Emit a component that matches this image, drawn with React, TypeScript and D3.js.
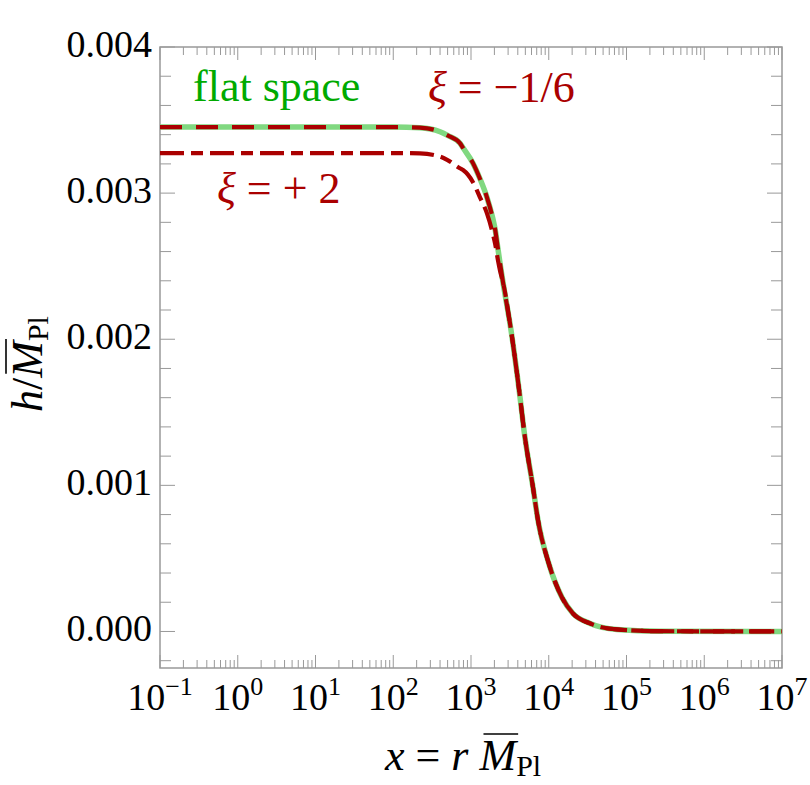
import { useEffect, useRef } from "react";
import * as d3 from "d3";

// x = r * M_Pl (log axis), h / M_Pl values
const xValues = [
  0.1, 1, 10, 100, 220, 400, 500, 720, 790, 1060, 1300, 1600, 1900, 2050, 2220,
  2360, 2580, 3270, 4270, 4800, 6270, 7280, 10000, 14800, 20500, 34000, 75000,
  270000, 1e7,
];
const flatSpace = [
  0.003452, 0.003452, 0.003452, 0.003452, 0.003448, 0.00342, 0.003395, 0.003342,
  0.00331, 0.003205, 0.0031, 0.002973, 0.00283, 0.002747, 0.00262, 0.002521,
  0.00239, 0.002062, 0.001603, 0.001377, 0.000986, 0.00076, 0.000466, 0.000233,
  0.000123, 0.000055, 0.000014, 0.000002, 0,
];
const xiMinusSixth = [
  0.003452, 0.003452, 0.003452, 0.003452, 0.003448, 0.00342, 0.003395, 0.003342,
  0.00331, 0.003205, 0.0031, 0.002973, 0.00283, 0.002747, 0.00262, 0.002521,
  0.00239, 0.002062, 0.001603, 0.001377, 0.000986, 0.00076, 0.000466, 0.000233,
  0.000123, 0.000055, 0.000014, 0.000002, 0,
];
const xiPlusTwo = [
  0.003274, 0.003274, 0.003274, 0.003274, 0.003272, 0.00325, 0.003226, 0.00317,
  0.003158, 0.003075, 0.002973, 0.002863, 0.002726, 0.00265, 0.002541, 0.00247,
  0.00239, 0.002062, 0.001603, 0.001377, 0.000986, 0.00076, 0.000466, 0.000233,
  0.000123, 0.000055, 0.000014, 0.000002, 0,
];

const xExponents = [-1, 0, 1, 2, 3, 4, 5, 6, 7];
const yTickLabels = ["0.000", "0.001", "0.002", "0.003", "0.004"];

const W = 810;
const H = 785;
const margin = { top: 47, right: 28, bottom: 117, left: 160 };
const FONT = "'Liberation Serif', 'DejaVu Serif', serif";
const RED = "#aa0000";
const GREEN_TEXT = "#00aa00";
const GREEN_LINE = "#80d880";
const AXIS = "#999999";

// draws "M-bar_Pl" pieces into a text, then puts a thin bar over the M
function addMbar(
  g: d3.Selection<SVGGElement, unknown, null, undefined>,
  text: d3.Selection<SVGTextElement, unknown, null, undefined>,
  mIndex: number
) {
  const node = text.node() as SVGTextElement;
  const ext = node.getExtentOfChar(mIndex);
  g.append("line")
    .attr("x1", ext.x + 4)
    .attr("x2", ext.x + ext.width + 2)
    .attr("y1", ext.y + 3)
    .attr("y2", ext.y + 3)
    .attr("stroke", "#000")
    .attr("stroke-width", 1.6);
}

export default function App() {
  const svgRef = useRef<SVGSVGElement>(null);

  useEffect(() => {
    if (!svgRef.current) return;
    const svg = d3.select(svgRef.current);
    svg.selectAll("*").remove();

    const x0 = margin.left;
    const x1 = W - margin.right;
    const y0 = margin.top;
    const y1 = H - margin.bottom;

    const x = d3.scaleLog().domain([0.1, 1e7]).range([x0, x1]);
    const y = d3.scaleLinear().domain([-0.00025, 0.004]).range([y1, y0]);

    svg
      .append("defs")
      .append("clipPath")
      .attr("id", "plot-clip")
      .append("rect")
      .attr("x", x0)
      .attr("y", y0)
      .attr("width", x1 - x0)
      .attr("height", y1 - y0);

    // ticks
    const xTicks: { v: number; major: boolean }[] = [];
    for (let d = -1; d < 7; d++) {
      for (let k = 1; k <= 9; k++) xTicks.push({ v: k * Math.pow(10, d), major: k === 1 });
    }
    xTicks.push({ v: 1e7, major: true });

    const yTicks = d3.range(-1, 21).map(i => ({ v: i * 0.0002, major: i % 5 === 0 }));

    const ticks = svg.append("g").attr("stroke", AXIS).attr("stroke-width", 1);
    xTicks.forEach(t => {
      const len = t.major ? 13 : 8;
      const px = x(t.v);
      ticks.append("line").attr("x1", px).attr("x2", px).attr("y1", y1).attr("y2", y1 - len);
      ticks.append("line").attr("x1", px).attr("x2", px).attr("y1", y0).attr("y2", y0 + len);
    });
    yTicks.forEach(t => {
      const len = t.major ? 15 : 11;
      const py = y(t.v);
      ticks.append("line").attr("x1", x0).attr("x2", x0 + len).attr("y1", py).attr("y2", py);
      ticks.append("line").attr("x1", x1).attr("x2", x1 - len).attr("y1", py).attr("y2", py);
    });

    // frame
    svg
      .append("rect")
      .attr("x", x0)
      .attr("y", y0)
      .attr("width", x1 - x0)
      .attr("height", y1 - y0)
      .attr("fill", "none")
      .attr("stroke", AXIS)
      .attr("stroke-width", 1.5);

    // tick labels
    yTickLabels.forEach(lbl => {
      svg
        .append("text")
        .attr("x", x0 - 8)
        .attr("y", y(+lbl) + 10)
        .attr("text-anchor", "end")
        .attr("font-family", FONT)
        .attr("font-size", 38)
        .attr("fill", "#000")
        .text(lbl);
    });

    xExponents.forEach(e => {
      const t = svg
        .append("text")
        .attr("x", x(Math.pow(10, e)))
        .attr("y", 710)
        .attr("text-anchor", "middle")
        .attr("font-family", FONT)
        .attr("font-size", 38)
        .attr("fill", "#000");
      t.append("tspan").text("10");
      t.append("tspan")
        .attr("font-size", 26)
        .attr("dy", -15)
        .text(e < 0 ? "\u2212" + Math.abs(e) : String(e));
    });

    // curves
    const line = d3
      .line<number>()
      .x((_, i) => x(xValues[i]))
      .y(d => y(d))
      .curve(d3.curveMonotoneX);

    const plot = svg.append("g").attr("clip-path", "url(#plot-clip)");
    plot
      .append("path")
      .attr("d", line(flatSpace))
      .attr("fill", "none")
      .attr("stroke", GREEN_LINE)
      .attr("stroke-width", 5.5);
    plot
      .append("path")
      .attr("d", line(xiPlusTwo))
      .attr("fill", "none")
      .attr("stroke", RED)
      .attr("stroke-width", 4.2)
      .attr("stroke-dasharray", "24,7,12,7");
    plot
      .append("path")
      .attr("d", line(xiMinusSixth))
      .attr("fill", "none")
      .attr("stroke", RED)
      .attr("stroke-width", 4.2)
      .attr("stroke-dasharray", "22,14");

    // in-plot labels
    svg
      .append("text")
      .attr("x", 193)
      .attr("y", 101)
      .attr("font-family", FONT)
      .attr("font-size", 44)
      .attr("fill", GREEN_TEXT)
      .text("flat space");

    const l1 = svg
      .append("text")
      .attr("x", 428)
      .attr("y", 102)
      .attr("font-family", FONT)
      .attr("font-size", 44)
      .attr("fill", RED);
    l1.append("tspan").attr("font-style", "italic").text("\u03be");
    l1.append("tspan").text(" = \u22121/6");

    const l2 = svg
      .append("text")
      .attr("x", 217)
      .attr("y", 203)
      .attr("font-family", FONT)
      .attr("font-size", 44)
      .attr("fill", RED);
    l2.append("tspan").attr("font-style", "italic").text("\u03be");
    l2.append("tspan").text(" = + 2");

    // axis titles
    const xg = svg.append("g");
    const xt = xg
      .append("text")
      .attr("x", 385)
      .attr("y", 770)
      .attr("font-family", FONT)
      .attr("font-size", 44)
      .attr("fill", "#000");
    xt.append("tspan").attr("font-style", "italic").text("x");
    xt.append("tspan").text(" = ");
    xt.append("tspan").attr("font-style", "italic").text("r ");
    xt.append("tspan").attr("font-style", "italic").text("M");
    xt.append("tspan").attr("font-size", 30).attr("dy", 6).text("Pl");
    addMbar(xg, xt, 6);

    const yg = svg.append("g").attr("transform", "translate(42,412) rotate(-90)");
    const yt = yg
      .append("text")
      .attr("x", 0)
      .attr("y", 0)
      .attr("font-family", FONT)
      .attr("font-size", 44)
      .attr("fill", "#000");
    yt.append("tspan").attr("font-style", "italic").text("h");
    yt.append("tspan").text("/");
    yt.append("tspan").attr("font-style", "italic").text("M");
    yt.append("tspan").attr("font-size", 30).attr("dy", 6).text("Pl");
    addMbar(yg, yt, 2);
  }, []);

  return (
    <div style={{ position: "absolute", left: 0, top: 0 }}>
      <svg ref={svgRef} width={W} height={H} style={{ display: "block", background: "#fff" }}></svg>
    </div>
  );
}
